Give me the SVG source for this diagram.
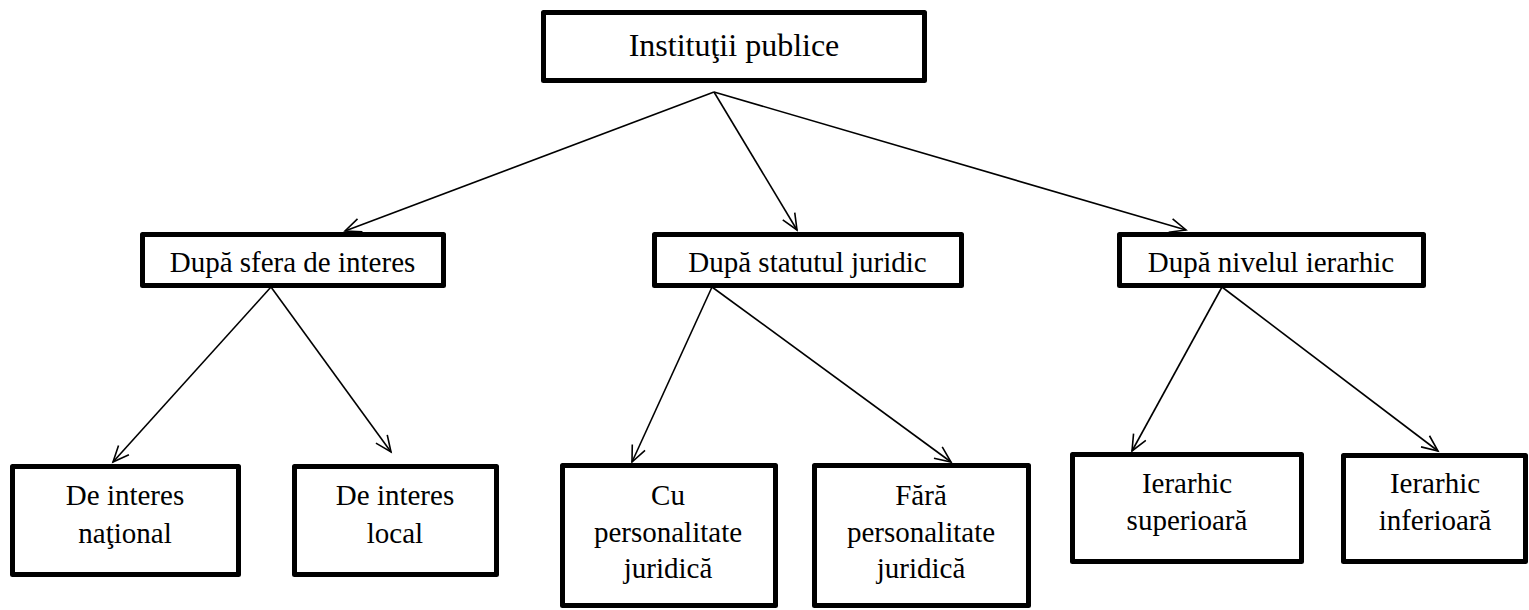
<svg xmlns="http://www.w3.org/2000/svg" width="1529" height="610" viewBox="0 0 1529 610">
<style>
.box{fill:#fff;stroke:#000;stroke-width:5;stroke-linejoin:round}
.t{font-family:"Liberation Serif","Times New Roman",serif;fill:#000;text-anchor:middle}
.l2{font-size:29px}
.l1{font-size:32px}
.edge{stroke:#000;stroke-width:1.6;fill:none;marker-end:url(#arr)}
</style>
<defs>
<marker id="arr" markerWidth="20" markerHeight="16" refX="17" refY="8" orient="auto" markerUnits="userSpaceOnUse">
<path d="M1,1 L17,8 L1,15" fill="none" stroke="#000" stroke-width="1.6"/>
</marker>
</defs>
<rect width="1529" height="610" fill="#fff"/>
<g id="connectors">
<line class="edge" x1="714" y1="92" x2="345" y2="231"/>
<line class="edge" x1="714" y1="92" x2="797" y2="230"/>
<line class="edge" x1="714" y1="92" x2="1186" y2="230"/>
<line class="edge" x1="271" y1="287" x2="113" y2="462"/>
<line class="edge" x1="271" y1="287" x2="391" y2="452"/>
<line class="edge" x1="712" y1="287" x2="632" y2="462"/>
<line class="edge" x1="712" y1="287" x2="951" y2="462"/>
<line class="edge" x1="1222" y1="287" x2="1132" y2="451"/>
<line class="edge" x1="1222" y1="287" x2="1438" y2="451"/>
</g>
<g id="n-root">
<rect class="box" x="543.5" y="12.5" width="381" height="68"/>
<text class="t l1" x="734" y="56">Instituţii publice</text>
</g>
<g id="n-sfera">
<rect class="box" x="142.5" y="234.5" width="301" height="51"/>
<text class="t l2" x="292.5" y="272">După sfera de interes</text>
</g>
<g id="n-statut">
<rect class="box" x="654.5" y="234.5" width="307" height="51"/>
<text class="t l2" x="807.5" y="272">După statutul juridic</text>
</g>
<g id="n-nivel">
<rect class="box" x="1119.5" y="234.5" width="304" height="51"/>
<text class="t l2" x="1271" y="272">După nivelul ierarhic</text>
</g>
<g id="n-national">
<rect class="box" x="12.5" y="466.5" width="226" height="108"/>
<text class="t l2" x="125" y="505">De interes</text>
<text class="t l2" x="125" y="543">naţional</text>
</g>
<g id="n-local">
<rect class="box" x="294.5" y="466.5" width="202" height="108"/>
<text class="t l2" x="395" y="505">De interes</text>
<text class="t l2" x="395" y="543">local</text>
</g>
<g id="n-cu">
<rect class="box" x="562.5" y="465.5" width="213" height="140"/>
<text class="t l2" x="668" y="505">Cu</text>
<text class="t l2" x="668" y="542">personalitate</text>
<text class="t l2" x="668" y="578">juridică</text>
</g>
<g id="n-fara">
<rect class="box" x="814.5" y="465.5" width="214" height="140"/>
<text class="t l2" x="921" y="505">Fără</text>
<text class="t l2" x="921" y="542">personalitate</text>
<text class="t l2" x="921" y="578">juridică</text>
</g>
<g id="n-sup">
<rect class="box" x="1072.5" y="454.5" width="229" height="107"/>
<text class="t l2" x="1187" y="493">Ierarhic</text>
<text class="t l2" x="1187" y="530">superioară</text>
</g>
<g id="n-inf">
<rect class="box" x="1343.5" y="455.5" width="182" height="106"/>
<text class="t l2" x="1435" y="493">Ierarhic</text>
<text class="t l2" x="1435" y="530">inferioară</text>
</g>
</svg>
